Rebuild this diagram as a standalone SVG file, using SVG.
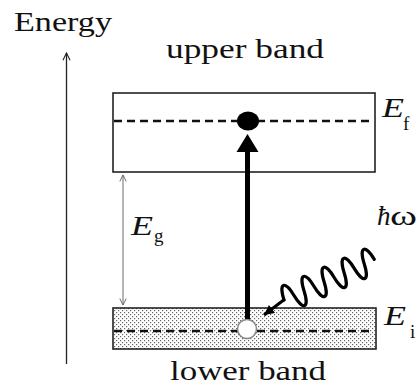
<svg xmlns="http://www.w3.org/2000/svg" width="419" height="386" viewBox="0 0 419 386">
<style>
text{font-family:"Liberation Serif","DejaVu Serif","Times New Roman",serif;fill:#111}
.lbl{font-size:28px}
.it{font-style:italic;font-size:28px}
.sub{font-size:19px}
.band{fill:none;stroke:#222;stroke-width:1.6}
.dash{fill:none;stroke:#111;stroke-width:2.4;stroke-dasharray:8 5}
</style>
<defs>
<pattern id="stip" width="4" height="4" patternUnits="userSpaceOnUse">
<rect width="4" height="4" fill="#fff"/>
<rect x="0" y="0" width="1.2" height="1.2" fill="#666"/>
<rect x="2" y="2" width="1.2" height="1.2" fill="#666"/>
</pattern>
<marker id="open" viewBox="0 0 10 10" refX="9" refY="5" markerWidth="9" markerHeight="9" orient="auto-start-reverse" markerUnits="userSpaceOnUse">
<path d="M1,1 L9,5 L1,9" fill="none" stroke="#222" stroke-width="1.2"/>
</marker>
<marker id="openg" viewBox="0 0 10 10" refX="9" refY="5" markerWidth="8" markerHeight="8" orient="auto-start-reverse" markerUnits="userSpaceOnUse">
<path d="M1,1 L9,5 L1,9" fill="none" stroke="#666" stroke-width="1.2"/>
</marker>
<marker id="solid" viewBox="0 0 10 10" refX="10" refY="5" markerWidth="12" markerHeight="10" orient="auto" markerUnits="userSpaceOnUse">
<path d="M0,0 L10,5 L0,10 Z" fill="#000"/>
</marker>
</defs>
<rect width="419" height="386" fill="#fff"/>

<g id="energy-axis">
<line x1="66.5" y1="364" x2="66.5" y2="53" stroke="#222" stroke-width="1.3" marker-end="url(#open)"/>
<text class="lbl" x="14" y="31" textLength="98" lengthAdjust="spacingAndGlyphs">Energy</text>
</g>

<g id="upper-band">
<rect class="band" x="113" y="93" width="262" height="79"/>
<line class="dash" x1="114" y1="121" x2="374" y2="121"/>
<text class="lbl" x="166" y="58" textLength="158" lengthAdjust="spacingAndGlyphs">upper band</text>
<text class="it" x="382" y="117" textLength="22" lengthAdjust="spacingAndGlyphs">E</text>
<text class="sub" x="403" y="130">f</text>
</g>

<g id="lower-band">
<rect x="113" y="308" width="263" height="41" fill="url(#stip)" stroke="#222" stroke-width="1.6"/>
<line class="dash" x1="114" y1="331" x2="373" y2="331"/>
<text class="lbl" x="170" y="380" textLength="156" lengthAdjust="spacingAndGlyphs">lower band</text>
<text class="it" x="384" y="325" textLength="22" lengthAdjust="spacingAndGlyphs">E</text>
<text class="sub" x="410" y="338">i</text>
</g>

<g id="gap">
<line x1="123" y1="175" x2="123" y2="305" stroke="#777" stroke-width="1.1" marker-start="url(#openg)" marker-end="url(#openg)"/>
<text class="it" x="131" y="235" textLength="22" lengthAdjust="spacingAndGlyphs">E</text>
<text class="sub" x="154" y="242">g</text>
</g>

<g id="photon">
<path d="M0,0 c2,-18 9,-18 11,0 s9,18 11,0 s9,-18 11,0 s9,18 11,0 s9,-18 11,0 s9,18 11,0 s9,-18 11,0 s9,18 11,0 s9,-18 11,0" transform="translate(284,300) rotate(-24.2)" fill="none" stroke="#000" stroke-width="3.2" stroke-linecap="round"/>
<line x1="285" y1="299" x2="264" y2="315" stroke="#000" stroke-width="3" marker-end="url(#solid)"/>
<text x="377" y="225" font-size="27" font-style="italic">ħ</text>
<text x="390" y="225" font-size="27" textLength="27" lengthAdjust="spacingAndGlyphs">ω</text>
</g>

<g id="transition">
<line x1="247.5" y1="320" x2="247.5" y2="150" stroke="#000" stroke-width="5"/>
<path d="M236.5,152 L247.5,134 L258.5,152 Z" fill="#000"/>
</g>

<g id="electron">
<ellipse cx="248" cy="121" rx="11" ry="9.5" fill="#000"/>
</g>

<g id="hole">
<circle cx="247" cy="329" r="9.5" fill="#fff" stroke="#888" stroke-width="1.5"/>
</g>
</svg>
